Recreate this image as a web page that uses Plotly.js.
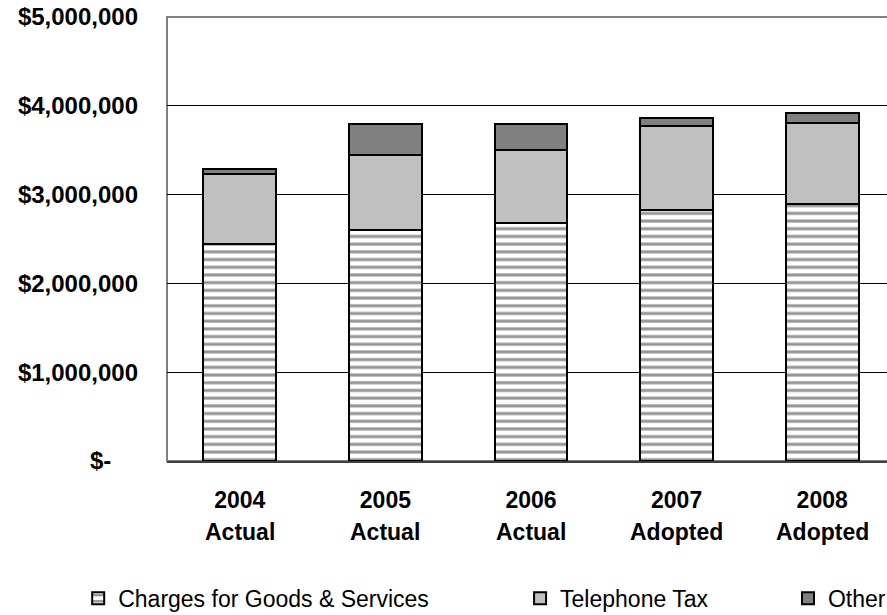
<!DOCTYPE html>
<html>
<head>
<meta charset="utf-8">
<script src="https://cdn.plot.ly/plotly-3.0.1.min.js"></script>
<style>
  html, body { margin: 0; padding: 0; overflow: hidden; background: #fff; }
  #chart { width: 895px; height: 615px; }
</style>
</head>
<body>
<div id="chart"></div>
<script>
// Revenue by source, fiscal years 2004-2008
const years    = ["2004", "2005", "2006", "2007", "2008"];
const statuses = ["Actual", "Actual", "Actual", "Adopted", "Adopted"];
const chargesForGoods = [2440000, 2600000, 2680000, 2830000, 2890000];
const telephoneTax    = [ 790000,  850000,  820000,  940000,  920000];
const otherRevenue    = [  60000,  350000,  290000,   90000,  110000];

const yTickVals = [0, 1000000, 2000000, 3000000, 4000000, 5000000];
const yTickText = ["$-\u00a0\u00a0\u00a0\u00a0", "$1,000,000", "$2,000,000", "$3,000,000", "$4,000,000", "$5,000,000"];

const FONT = "Liberation Sans, Arial, sans-serif";
const outline = { color: "#000000", width: 2 };

const traces = [
  {
    type: "bar", name: "Charges for Goods & Services",
    x: years, y: chargesForGoods, legend: "legend",
    marker: {
      color: "#ffffff", line: outline,
      pattern: { shape: "-", fgcolor: "#969696", bgcolor: "#ffffff", size: 7.7, solidity: 0.4, fillmode: "replace" }
    },
    hoverinfo: "skip"
  },
  {
    type: "bar", name: "Telephone Tax",
    x: years, y: telephoneTax, legend: "legend2",
    marker: { color: "#c0c0c0", line: outline },
    hoverinfo: "skip"
  },
  {
    type: "bar", name: "Other",
    x: years, y: otherRevenue, legend: "legend3",
    marker: { color: "#808080", line: outline },
    hoverinfo: "skip"
  }
];

// second row of category labels (budget status) under each year;
// placed by category index so numeric-looking names are not read as positions
const statusLabels = statuses.map((s, i) => ({
  xref: "x", yref: "paper", x: i, y: -0.161,
  xanchor: "center", yanchor: "middle", showarrow: false,
  text: s,
  font: { family: FONT, size: 23, color: "#000", weight: "bold" }
}));

const legendCommon = {
  orientation: "h", yanchor: "middle", xanchor: "left",
  font: { family: FONT, size: 23, color: "#000" },
  bgcolor: "rgba(0,0,0,0)", borderwidth: 0
};

const layout = {
  width: 895, height: 615,
  margin: { l: 167, r: 0, t: 17, b: 154, pad: 0, autoexpand: false },
  paper_bgcolor: "#ffffff", plot_bgcolor: "#ffffff",
  barmode: "stack", bargap: 0.5,
  font: { family: FONT, color: "#000" },
  xaxis: {
    type: "category", categoryarray: years, categoryorder: "array",
    range: [-0.5, years.length - 0.5], autorange: false,
    tickfont: { family: FONT, size: 23, color: "#000", weight: "bold" },
    showline: true, linecolor: "#404040", linewidth: 2,
    ticks: "", ticklabelstandoff: 17, automargin: false,
    showgrid: false, zeroline: false, fixedrange: true
  },
  yaxis: {
    range: [0, 5000000],
    tickvals: yTickVals, ticktext: yTickText,
    tickfont: { family: FONT, size: 24, color: "#000", weight: "bold" },
    showgrid: true, gridcolor: "#000000", gridwidth: 1,
    showline: false, zeroline: false, automargin: false,
    ticks: "", ticklabelstandoff: 28, fixedrange: true
  },
  shapes: [
    { type: "rect", xref: "paper", yref: "paper", x0: 0, x1: 1, y0: 0, y1: 1,
      line: { color: "#808080", width: 2 }, layer: "below" }
  ],
  annotations: statusLabels,
  legend:  Object.assign({}, legendCommon, { x: -0.122, y: -0.309 }),
  legend2: Object.assign({}, legendCommon, { x: 0.485, y: -0.309 }),
  legend3: Object.assign({}, legendCommon, { x: 0.853, y: -0.309 }),
  showlegend: true
};

Plotly.newPlot("chart", traces, layout, { staticPlot: true, displayModeBar: false });
</script>
</body>
</html>
